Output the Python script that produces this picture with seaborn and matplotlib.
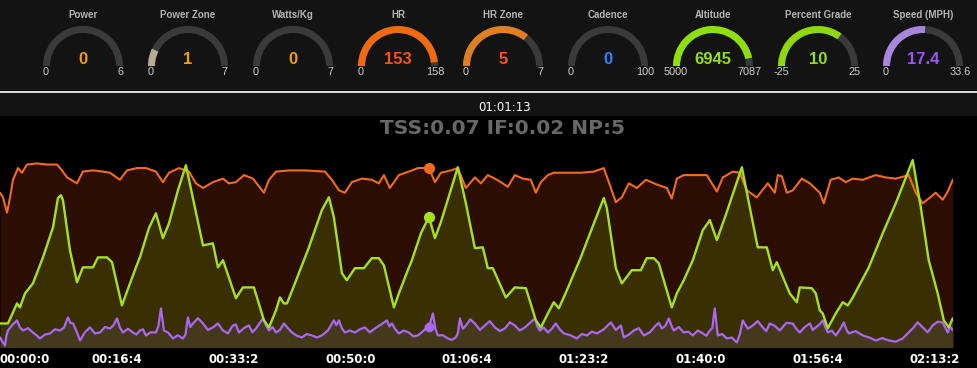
import numpy as np
import pandas as pd
import matplotlib
matplotlib.use("Agg")
import matplotlib.pyplot as plt
from matplotlib.patches import Wedge, Rectangle
import seaborn as sns

# ---------------- data ----------------
gauge_names = ["Power", "Power Zone", "Watts/Kg", "HR", "HR Zone", "Cadence",
               "Altitude", "Percent Grade", "Speed (MPH)"]
gauge_values = [0, 1, 0, 153, 5, 0, 6945, 10, 17.4]
gauge_value_labels = ["0", "1", "0", "153", "5", "0", "6945", "10", "17.4"]
gauge_mins = [0, 0, 0, 0, 0, 0, 5000, -25, 0]
gauge_maxs = [6, 7, 7, 158, 7, 100, 7087, 25, 33.6]
gauge_min_labels = ["0", "0", "0", "0", "0", "0", "5000", "-25", "0"]
gauge_max_labels = ["6", "7", "7", "158", "7", "100", "7087", "25", "33.6"]
gauge_arc_colors = ["#444444", "#b5ab93", "#444444", "#f06a10", "#e07f22",
                    "#444444", "#8ee00d", "#8fd80c", "#a886dc"]
gauge_text_colors = ["#f5a000", "#f5a000", "#f5a000", "#f5550c", "#f5550c",
                     "#2f86ff", "#93e012", "#93e012", "#9a55f5"]

tick_seconds = [0, 1000, 2000, 3000, 4000, 5000, 6000, 7000, 8000]
tick_labels = ["00:00:0", "00:16:4", "00:33:2", "00:50:0", "01:06:4",
               "01:23:2", "01:40:0", "01:56:4", "02:13:2"]
cursor_label = "01:01:13"
cursor_seconds = 3673
cursor_hr = 153
cursor_alt = 6945
cursor_speed = 17.4
summary_text = "TSS:0.07 IF:0.02 NP:5"

hr_time = [0, 26, 60, 86, 111, 154, 188, 231, 317, 402, 488, 531, 574, 659, 710, 796, 882, 942,
           1027, 1087, 1173, 1250, 1335, 1395, 1447, 1532, 1618, 1678, 1738, 1823, 1909, 1960,
           2020, 2089, 2166, 2260, 2303, 2363, 2474, 2611, 2782, 2842, 2902, 2953, 3013, 3099,
           3184, 3244, 3287, 3338, 3415, 3527, 3578, 3673, 3724, 3775, 3861, 3920, 3989, 4066,
           4117, 4177, 4237, 4289, 4348, 4408, 4477, 4545, 4588, 4631, 4691, 4742, 4854, 4973,
           5085, 5170, 5213, 5273, 5324, 5384, 5453, 5530, 5624, 5710, 5752, 5795, 5855, 5932,
           6052, 6138, 6189, 6274, 6334, 6394, 6480, 6574, 6634, 6660, 6694, 6737, 6788, 6865,
           6934, 7019, 7053, 7113, 7182, 7242, 7302, 7387, 7499, 7584, 7670, 7781, 7841, 7901,
           7952, 8012, 8072, 8115, 8158]
hr_bpm = [132, 128, 115, 128, 143, 153, 149, 156, 157, 156, 156, 151, 145, 140, 150, 151, 150, 149,
          143, 151, 153, 153, 150, 141, 149, 153, 150, 140, 136, 141, 144, 140,
          141, 147, 144, 132, 143, 150, 151, 151, 150, 143, 134, 132, 141, 144,
          143, 140, 147, 136, 147, 151, 153, 153, 141, 149, 151, 153, 136, 145,
          140, 147, 144, 141, 137, 147, 144, 143, 132, 141, 147, 149, 149, 149,
          150, 153, 141, 124, 128, 140, 136, 143, 139, 136, 127, 144, 147, 147,
          147, 133, 145, 150, 149, 134, 128, 140, 132, 147, 146, 132, 134, 144,
          140, 132, 123, 143, 145, 141, 144, 143, 147, 145, 144, 147, 132, 123,
          127, 132, 126, 133, 143]

alt_time = [0, 68, 146, 171, 214, 282, 368, 454, 496, 522, 539, 599, 659, 710, 796, 839, 916, 959,
            1044, 1113, 1164, 1198, 1275, 1335, 1395, 1447, 1524, 1592, 1661, 1738, 1823, 1866,
            1909, 2020, 2080, 2174, 2260, 2303, 2363, 2397, 2431, 2457, 2525, 2645, 2756, 2816,
            2859, 2928, 2970, 3039, 3116, 3184, 3244, 3287, 3373, 3415, 3492, 3527, 3604, 3673,
            3724, 3775, 3920, 3989, 4066, 4134, 4177, 4220, 4331, 4408, 4503, 4588, 4631, 4691,
            4742, 4785, 4854, 4973, 5085, 5170, 5196, 5273, 5324, 5410, 5487, 5538, 5598, 5641,
            5752, 5795, 5855, 5932, 6018, 6078, 6138, 6223, 6352, 6420, 6488, 6566, 6617, 6651,
            6762, 6823, 6848, 6951, 6985, 7019, 7045, 7088, 7156, 7216, 7259, 7302, 7439, 7558,
            7670, 7815, 7884, 7952, 8029, 8081, 8123, 8158]
alt_ft = [6679, 6679, 6729, 6719, 6754, 6779, 6844, 6919, 6992, 6999, 6987, 6862, 6782, 6819, 6819, 6844, 6844, 6832,
          6724, 6779, 6819, 6844, 6917, 6954, 6892, 6929, 7012, 7074, 6979, 6874, 6879, 6819,
          6837, 6742, 6769, 6769, 6687, 6669, 6712, 6744, 6729, 6729, 6779, 6869, 6962, 6994,
          6944, 6804, 6787, 6817, 6817, 6842, 6842, 6824, 6719, 6754, 6812, 6837, 6904, 6945,
          6892, 6932, 7069, 6979, 6867, 6869, 6817, 6817, 6744, 6769, 6767, 6687, 6669, 6704,
          6732, 6717, 6762, 6844, 6929, 6992, 6967, 6817, 6779, 6812, 6812, 6842, 6842, 6829,
          6719, 6754, 6787, 6837, 6912, 6937, 6887, 6957, 7069, 6969, 6869, 6869, 6812, 6832,
          6754, 6732, 6769, 6767, 6754, 6712, 6704, 6667, 6704, 6732, 6724, 6744, 6819, 6904,
          6979, 7087, 6969, 6837, 6754, 6687, 6669, 6692]

# speed samples: (seconds, mph)
spd_samples = [
    (0, 8.6), (21, 5.0), (43, 1.7), (55, 10.0), (68, 14.5), (107, 19.5), (146, 23.1), (171, 17.0),
    (197, 14.5), (240, 16.5), (282, 12.8), (312, 10.5), (342, 7.7), (385, 11.0), (428, 12.0),
    (471, 15.5), (514, 14.5), (548, 17.0), (582, 25.7), (603, 21.0), (625, 20.5), (655, 14.0),
    (685, 6.0), (727, 13.0), (770, 17.1), (813, 12.0), (856, 12.8), (899, 17.5), (942, 16.2),
    (972, 19.0), (1002, 24.8), (1027, 17.0), (1053, 12.8), (1095, 16.0), (1138, 12.8), (1168, 11.0),
    (1198, 14.5), (1224, 15.5), (1250, 10.3), (1292, 13.0), (1335, 12.8), (1356, 18.0), (1378, 33.3),
    (1404, 14.5), (1442, 12.5), (1481, 7.7), (1523, 10.5), (1566, 7.7), (1588, 11.0), (1609, 25.7),
    (1630, 17.5), (1652, 20.5), (1695, 25.0), (1738, 20.5), (1780, 15.0), (1823, 17.1), (1866, 20.5),
    (1909, 14.5), (1951, 12.0), (1994, 18.8), (2020, 19.5), (2046, 12.8), (2088, 16.5), (2131, 18.8),
    (2161, 13.0), (2191, 16.2), (2221, 20.5), (2251, 24.8), (2277, 19.0), (2303, 14.5), (2333, 17.5),
    (2363, 12.8), (2397, 15.0), (2431, 20.5), (2465, 16.5), (2500, 12.8), (2542, 10.0), (2585, 8.6),
    (2628, 11.5), (2671, 10.3), (2713, 8.5), (2756, 10.3), (2807, 14.5), (2859, 23.1), (2880, 19.0),
    (2902, 23.1), (2927, 16.5), (2953, 12.8), (2996, 14.5), (3039, 12.8), (3081, 15.5), (3124, 17.1),
    (3167, 13.0), (3210, 16.2), (3261, 19.5), (3313, 23.1), (3334, 18.0), (3356, 20.5), (3385, 15.5),
    (3415, 12.0), (3458, 14.5), (3501, 12.8), (3540, 9.5), (3578, 10.3), (3612, 13.0), (3647, 16.2),
    (3673, 17.4), (3707, 29.1), (3728, 16.0), (3749, 10.3), (3792, 10.5), (3835, 7.7), (3869, 6.5),
    (3903, 8.6), (3920, 12.0), (3938, 24.8), (3963, 16.0), (3989, 18.8), (4027, 24.0), (4066, 20.5),
    (4109, 15.0), (4152, 18.8), (4194, 22.5), (4237, 17.1), (4280, 14.0), (4323, 16.2), (4365, 21.5),
    (4408, 18.8), (4451, 14.5), (4494, 17.1), (4537, 21.0), (4580, 24.8), (4601, 18.0), (4622, 14.5),
    (4656, 17.0), (4691, 12.8), (4725, 16.0), (4759, 20.5), (4793, 15.5), (4828, 12.0), (4883, 10.5),
    (4939, 7.7), (4982, 11.5), (5025, 10.3), (5067, 13.5), (5110, 12.0), (5170, 15.5), (5230, 21.4),
    (5273, 15.0), (5316, 18.8), (5341, 8.6), (5384, 11.0), (5427, 14.5), (5470, 16.5), (5513, 10.3),
    (5564, 13.0), (5615, 18.8), (5641, 21.0), (5667, 16.2), (5697, 18.5), (5727, 24.8), (5748, 19.0),
    (5769, 14.5), (5812, 17.5), (5855, 12.8), (5893, 13.5), (5932, 10.3), (5975, 14.5), (6018, 12.0),
    (6048, 10.0), (6078, 14.5), (6099, 16.5), (6120, 33.3), (6146, 10.3), (6184, 11.5), (6223, 7.7),
    (6266, 8.5), (6309, 4.3), (6334, 11.0), (6360, 23.1), (6403, 16.0), (6446, 18.8), (6488, 22.5),
    (6531, 17.1), (6561, 14.0), (6591, 20.5), (6634, 18.5), (6677, 14.5), (6732, 21.0), (6788, 20.5),
    (6818, 16.0), (6848, 12.8), (6891, 17.5), (6934, 20.5), (6959, 15.0), (6985, 17.1), (7015, 19.5),
    (7045, 23.1), (7066, 17.5), (7088, 12.8), (7122, 14.5), (7156, 10.3), (7190, 15.0), (7225, 21.4),
    (7246, 15.5), (7267, 12.0), (7327, 14.0), (7387, 10.3), (7443, 8.5), (7499, 6.0), (7554, 8.0),
    (7610, 6.0), (7670, 5.0), (7730, 7.7), (7772, 12.0), (7815, 16.2), (7858, 21.5), (7901, 17.1),
    (7943, 13.0), (7986, 18.8), (8029, 22.0), (8072, 21.4), (8093, 17.0), (8115, 12.8), (8136, 18.0),
    (8158, 14.5)]
spd_time = [t for t, v in spd_samples]
spd_mph = [v for t, v in spd_samples]

# ---------------- style ----------------
sns.set_theme(style="dark")
plt.rcParams["font.family"] = ["Liberation Sans", "DejaVu Sans"]

W, H = 977, 368
fig = plt.figure(figsize=(W / 100, H / 100), dpi=100, facecolor="black")

# overlay (pixel coordinates, y measured from top via H - y)
ov = fig.add_axes([0, 0, 1, 1], zorder=0)
ov.set_xlim(0, W)
ov.set_ylim(0, H)
ov.axis("off")
ov.add_patch(Rectangle((0, H - 90), W, 90, color="#131313", lw=0))
ov.add_patch(Rectangle((0, H - 116), W, 24, color="#131313", lw=0))
ov.add_patch(Rectangle((0, H - 92.5), W, 2, color="#d8d8d8", lw=0))

gx0, gdx, gy = 83, 105, 66
r_out, r_w = 40, 7
for i, name in enumerate(gauge_names):
    cx = gx0 + i * gdx
    cy = H - gy
    ov.add_patch(Wedge((cx, cy), r_out, 0, 180, width=r_w, color="#3a3a3a", lw=0))
    frac = (gauge_values[i] - gauge_mins[i]) / (gauge_maxs[i] - gauge_mins[i])
    if frac > 0:
        ov.add_patch(Wedge((cx, cy), r_out, 180 - 180 * frac, 180, width=r_w,
                           color=gauge_arc_colors[i], lw=0))
    ov.text(cx, H - 15, name, ha="center", va="center", fontsize=7,
            fontweight="bold", color="#b4b4b4")
    ov.text(cx, H - 59.5, gauge_value_labels[i], ha="center", va="center", fontsize=12,
            fontweight="bold", color=gauge_text_colors[i])
    ov.text(cx - 37, H - 72, gauge_min_labels[i], ha="center", va="center",
            fontsize=7.8, color="#d0d0d0")
    ov.text(cx + 37, H - 72, gauge_max_labels[i], ha="center", va="center",
            fontsize=7.8, color="#d0d0d0")

ov.text(505, H - 107.5, cursor_label, ha="center", va="center", fontsize=8.5,
        color="white", family=["DejaVu Sans"])
ov.text(503, H - 128, summary_text, ha="center", va="center", fontsize=14.5,
        fontweight="bold", color="#686868", family=["DejaVu Sans"])

# chart axes
rect = [0, 1 - 347.5 / H, 953 / W, (347.5 - 150) / H]
shared_lim = (0, 168.4)
alt_lim = (6619, 7112)
x_lim = (0, 8160)

def layer(z, ylim):
    a = fig.add_axes(rect, zorder=z)
    a.set_xlim(*x_lim)
    a.set_ylim(*ylim)
    a.patch.set_alpha(0)
    for s in a.spines.values():
        s.set_visible(False)
    a.set_xticks([])
    a.set_yticks([])
    a.grid(False)
    return a

ax_hr = layer(1, shared_lim)
ax_hr.patch.set_alpha(1)
ax_hr.set_facecolor("black")
ax_alt = layer(2, alt_lim)
ax_top = layer(3, shared_lim)
ax_altline = layer(4, alt_lim)

ax_hr.fill_between(hr_time, 0, hr_bpm, color="#2b0e01", lw=0)
ax_alt.fill_between(alt_time, alt_lim[0], alt_ft, color="#3a2f02", lw=0)
ax_top.fill_between(spd_time, 0, spd_mph, color="#45391b", lw=0)

sns.lineplot(x=hr_time, y=hr_bpm, ax=ax_top, color="#f36b1c", lw=1.5,
             estimator=None, sort=False)
sns.lineplot(x=spd_time, y=spd_mph, ax=ax_top, color="#aa68f2", lw=1.6,
             estimator=None, sort=False)
sns.lineplot(x=alt_time, y=alt_ft, ax=ax_altline, color="#a4e21d", lw=1.7,
             estimator=None, sort=False)

ax_top.plot([cursor_seconds], [cursor_hr], "o", color="#f36b1c", ms=7)
ax_top.plot([cursor_seconds], [cursor_speed], "o", color="#aa68f2", ms=6)
ax_altline.plot([cursor_seconds], [cursor_alt], "o", color="#a4e21d", ms=7)

for a in (ax_hr, ax_alt, ax_top, ax_altline):
    a.set_xlabel("")
    a.set_ylabel("")
    a.set_xlim(*x_lim)

ax_hr.set_ylim(*shared_lim)
ax_top.set_ylim(*shared_lim)
ax_alt.set_ylim(*alt_lim)
ax_altline.set_ylim(*alt_lim)

ax_hr.set_xticks(tick_seconds)
ax_hr.set_xticklabels(tick_labels, fontsize=8.5, fontweight="bold", color="white",
                      family=["DejaVu Sans"])
ax_hr.tick_params(axis="x", length=0, pad=4)
ax_hr.get_xticklabels()[0].set_ha("left")

fig.savefig("out.png", dpi=100, facecolor="black")
